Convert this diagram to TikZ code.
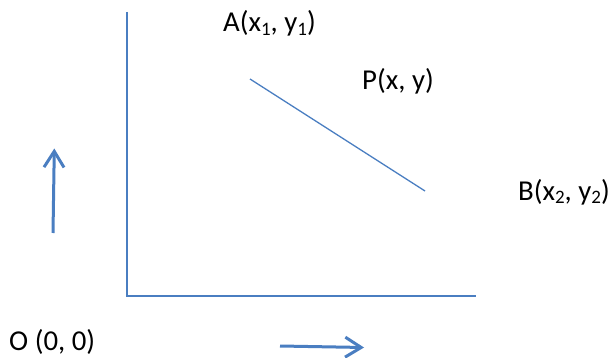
\documentclass[tikz,border=0pt]{standalone}
\usepackage{fontspec}
\setmainfont{Carlito}
\usetikzlibrary{arrows.meta}
\definecolor{axisblue}{RGB}{74,126,193}
\newcommand\lowidx[1]{\raisebox{-0.12em}{\fontsize{19}{18}\selectfont #1}}
\begin{document}
\begin{tikzpicture}[x=1pt,y=-1pt,
  axisline/.style={draw=axisblue,line width=2pt},
  segline/.style={draw=axisblue,line width=1.3pt},
  dirarrow/.style={draw=axisblue,line width=3pt,-{Straight Barb[length=16pt,width=20pt,line width=3pt]}},
  lbl/.style={inner sep=0pt,anchor=base west,font=\fontsize{28.8}{32}\selectfont}]
\useasboundingbox (0,0) rectangle (612,358);
\coordinate (ytop) at (127,12);
\coordinate (O) at (127,296);
\coordinate (xend) at (476,296);
\draw[axisline,line cap=butt] (ytop) -- (O) -- (xend);
\coordinate (A) at (250,79);
\coordinate (B) at (425,191);
\draw[segline] (A) -- (B);
\coordinate (u1) at (53,233);
\coordinate (u2) at (54.3,148.5);
\draw[dirarrow] (u1) -- (u2);
\coordinate (r1) at (280,346);
\coordinate (r2) at (364,347.5);
\draw[dirarrow] (r1) -- (r2);
\node[lbl] (la) at (223,32) {A(x\lowidx{1}, y\lowidx{1})};
\node[lbl] (lp) at (362,90) {P(x, y)};
\node[lbl] (lb) at (518,200) {B(x\lowidx{2}, y\lowidx{2})};
\node[lbl] (lo) at (9,350) {O (0, 0)};
\end{tikzpicture}
\end{document}
